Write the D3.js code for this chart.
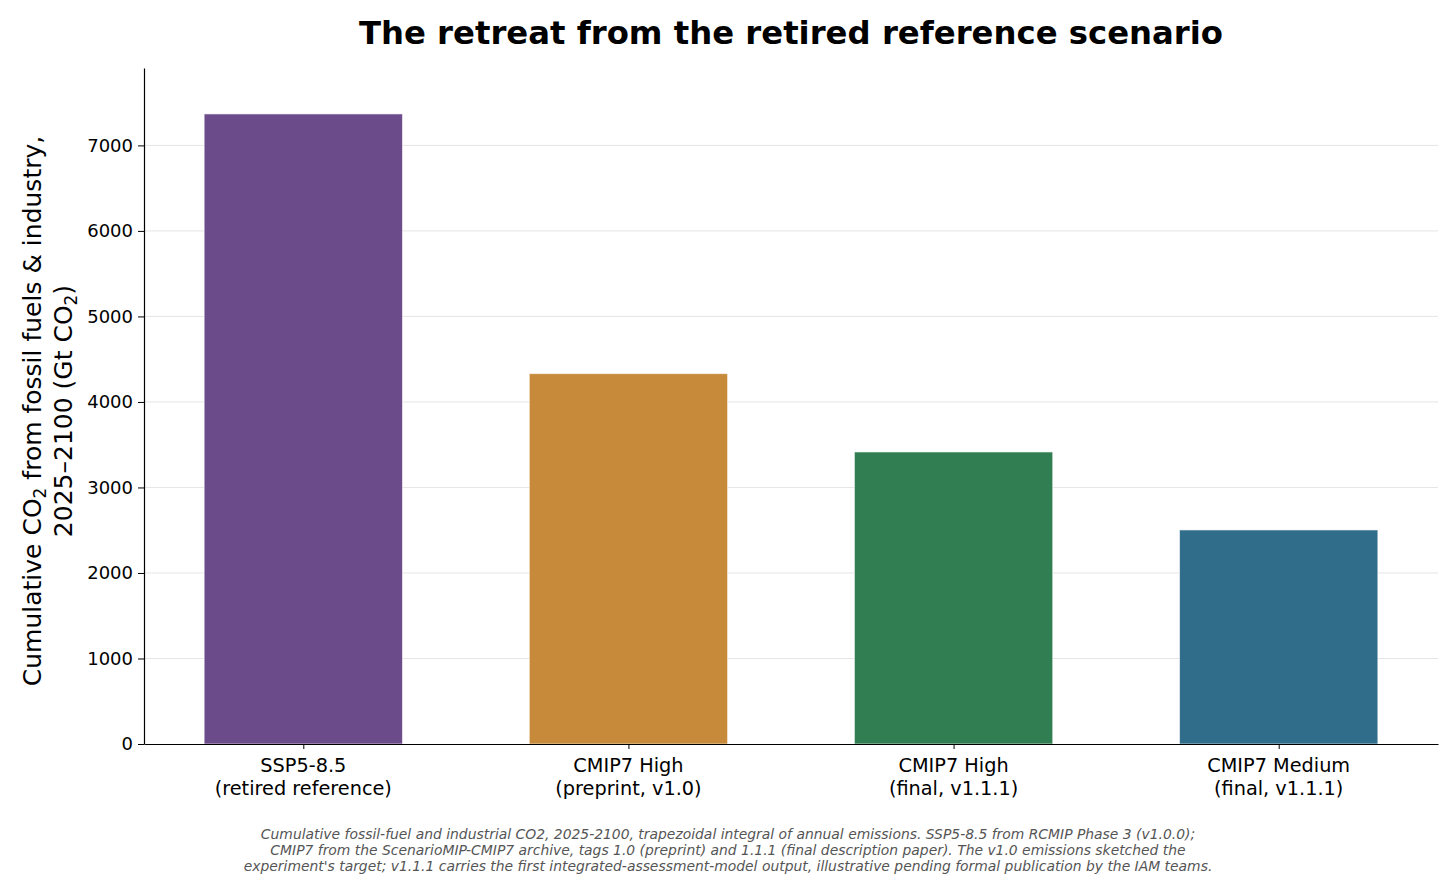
<!DOCTYPE html>
<html>
<head>
<meta charset="utf-8">
<script src="https://cdn.jsdelivr.net/npm/d3@7"></script>
<style>
  body { margin: 0; background: #fff; }
  text { font-family: "DejaVu Sans", sans-serif; }
</style>
</head>
<body>
<div class="container"></div>
<script>
// cumulative CO2 2025-2100, Gt CO2
const scenarios = ['SSP5-8.5', 'CMIP7 High', 'CMIP7 High', 'CMIP7 Medium'];
const subtitles = ['(retired reference)', '(preprint, v1.0)', '(final, v1.1.1)', '(final, v1.1.1)'];
const cumulative = [7368, 4331, 3415, 2503];
const colors = ['#6c4b8b', '#c78a3b', '#317e52', '#306d8b'];
const yTicks = [0, 1000, 2000, 3000, 4000, 5000, 6000, 7000];

const footnote = [
    'Cumulative fossil-fuel and industrial CO2, 2025-2100, trapezoidal integral of annual emissions. SSP5-8.5 from RCMIP Phase 3 (v1.0.0);',
    'CMIP7 from the ScenarioMIP-CMIP7 archive, tags 1.0 (preprint) and 1.1.1 (final description paper). The v1.0 emissions sketched the',
    'experiment\'s target; v1.1.1 carries the first integrated-assessment-model output, illustrative pending formal publication by the IAM teams.'
];

const width = 1456;
const height = 885;
const plotLeft = 144, plotRight = 1438, plotTop = 68, plotBottom = 744;

const svg = d3.select('.container')
    .append('svg')
    .attr('width', width)
    .attr('height', height);

const x = d3.scaleLinear().domain([-0.49, 3.49]).range([plotLeft, plotRight]);
const y = d3.scaleLinear().domain([0, 7905]).range([plotBottom, plotTop]);
const barW = 0.61;

// grid lines
svg.append('g')
    .selectAll('line')
    .data(yTicks.slice(1))
    .enter()
    .append('line')
    .attr('x1', plotLeft).attr('x2', plotRight)
    .attr('y1', d => y(d)).attr('y2', d => y(d))
    .attr('stroke', '#e5e5e5')
    .attr('stroke-width', 1);

// bars
svg.append('g')
    .selectAll('rect')
    .data(cumulative)
    .enter()
    .append('rect')
    .attr('x', (d, i) => x(i - barW / 2))
    .attr('width', x(barW) - x(0))
    .attr('y', d => y(d))
    .attr('height', d => y(0) - y(d))
    .attr('fill', (d, i) => colors[i])
    .attr('stroke', 'rgba(255,255,255,0.6)')
    .attr('stroke-width', 1);

// y axis
const yAxis = svg.append('g')
    .attr('transform', `translate(${plotLeft},0)`)
    .call(d3.axisLeft(y).tickValues(yTicks).tickFormat(d3.format('d'))
        .tickSize(6).tickPadding(5).tickSizeOuter(0));
yAxis.select('.domain').attr('stroke', '#000').attr('stroke-width', 1.2);
yAxis.selectAll('text').attr('font-size', 18).attr('font-family', 'DejaVu Sans').attr('fill', '#000');

// x axis
const xAxis = svg.append('g')
    .attr('transform', `translate(0,${plotBottom})`)
    .call(d3.axisBottom(x).tickValues([0, 1, 2, 3]).tickSize(5).tickSizeOuter(0).tickFormat(''));
xAxis.select('.domain').attr('stroke', '#000').attr('stroke-width', 1.2);

const xl = svg.append('g')
    .selectAll('text')
    .data(scenarios)
    .enter()
    .append('text')
    .attr('x', (d, i) => x(i))
    .attr('y', plotBottom + 28)
    .attr('text-anchor', 'middle')
    .attr('font-size', 19.3);
xl.append('tspan').text(d => d);
xl.append('tspan')
    .attr('x', (d, i) => x(i))
    .attr('dy', 23)
    .text((d, i) => subtitles[i]);

// y label
const ylMid = 411;
const yl = svg.append('text')
    .attr('transform', `translate(41,${ylMid}) rotate(-90)`)
    .attr('text-anchor', 'middle')
    .attr('font-size', 25);
yl.append('tspan').text('Cumulative CO');
yl.append('tspan').attr('font-size', 17).attr('dy', 5).text('2');
yl.append('tspan').attr('dy', -5).text(' from fossil fuels & industry,');

const yl2 = svg.append('text')
    .attr('transform', `translate(72,${ylMid}) rotate(-90)`)
    .attr('text-anchor', 'middle')
    .attr('font-size', 25);
yl2.append('tspan').text('2025\u20132100 (Gt CO');
yl2.append('tspan').attr('font-size', 17).attr('dy', 5).text('2');
yl2.append('tspan').attr('dy', -5).text(')');

// title
svg.append('text')
    .attr('x', (plotLeft + plotRight) / 2)
    .attr('y', 44)
    .attr('text-anchor', 'middle')
    .attr('font-size', 32.3)
    .attr('font-weight', 'bold')
    .text('The retreat from the retired reference scenario');

// footnote
svg.append('g')
    .selectAll('text')
    .data(footnote)
    .enter()
    .append('text')
    .attr('x', 728)
    .attr('y', (d, i) => 839 + i * 16)
    .attr('text-anchor', 'middle')
    .attr('font-size', 13.9)
    .attr('font-style', 'italic')
    .attr('fill', '#555')
    .text(d => d);
</script>
</body>
</html>
